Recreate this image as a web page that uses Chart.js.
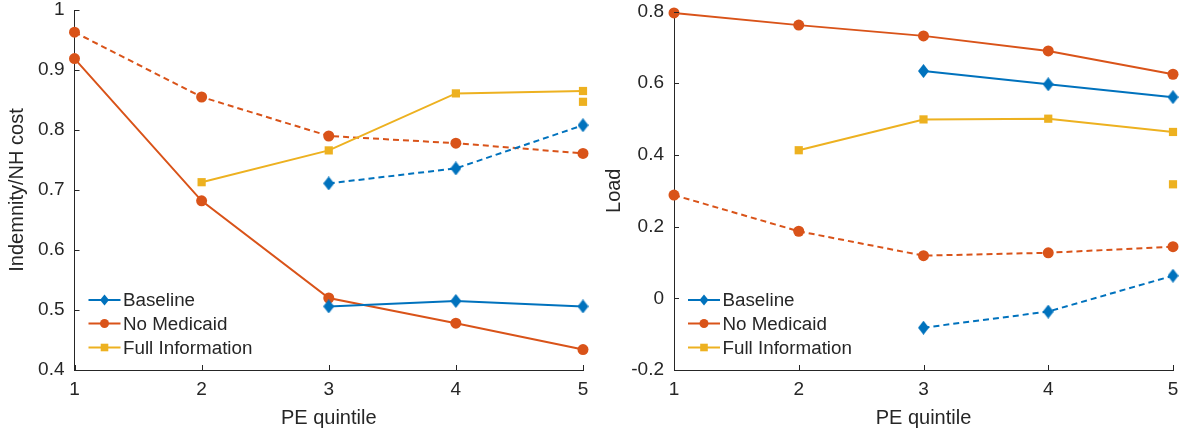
<!DOCTYPE html>
<html><head><meta charset="utf-8">
<script src="https://cdn.jsdelivr.net/npm/chart.js@4.4.1/dist/chart.umd.min.js"></script>
<style>
html,body{margin:0;padding:0;background:#fff;}
#wrap{position:relative;width:1180px;height:433px;}
canvas{position:absolute;top:0;}
</style></head><body>
<div id="wrap"><canvas id="c1" width="590" height="433" style="left:0"></canvas><canvas id="c2" width="590" height="433" style="left:590px"></canvas></div>
<script>
// ---------- DATA ----------
const quintiles = [1, 2, 3, 4, 5];
const seriesNames = ['Baseline', 'No Medicaid', 'Full Information'];
const xTitle = 'PE quintile';
const leftYTitle = 'Indemnity/NH cost';
const rightYTitle = 'Load';

// Left panel: Indemnity/NH cost
const indemBaselineSolid  = [null, null, 0.506, 0.515, 0.506];
const indemBaselineDashed = [null, null, 0.711, 0.736, 0.808];
const indemNoMedSolid     = [0.919, 0.682, 0.520, 0.478, 0.434];
const indemNoMedDashed    = [0.963, 0.855, 0.790, 0.778, 0.761];
const indemFullSolid      = [null, 0.713, 0.766, 0.861, 0.865];
const indemFullExtra      = [null, null, null, null, 0.847];

// Right panel: Load
const loadBaselineSolid  = [null, null, 0.634, 0.597, 0.561];
const loadBaselineDashed = [null, null, -0.082, -0.037, 0.063];
const loadNoMedSolid     = [0.796, 0.762, 0.732, 0.690, 0.625];
const loadNoMedDashed    = [0.288, 0.187, 0.119, 0.127, 0.144];
const loadFullSolid      = [null, 0.413, 0.499, 0.501, 0.464];
const loadFullExtra      = [null, null, null, null, 0.318];

// ---------- STYLE ----------
const BLUE = '#0072BD', ORANGE = '#D95319', YELLOW = '#EDB120';
const AXIS = '#262626';
const FONT = "'Liberation Sans', Arial, Helvetica, sans-serif";
Chart.defaults.font.family = FONT;
Chart.defaults.color = AXIS;

function diamondImg(color, w, h) {
  const c = document.createElement('canvas'); c.width = w; c.height = h;
  const g = c.getContext('2d'); g.fillStyle = color;
  g.beginPath(); g.moveTo(w/2, 0); g.lineTo(w, h/2); g.lineTo(w/2, h); g.lineTo(0, h/2); g.closePath(); g.fill();
  return c;
}
const diamondBig = diamondImg(BLUE, 11, 14);

function pts(arr) { return quintiles.map((x, i) => ({x: x, y: arr[i]})); }

function ds(arr, color, kind, dashed, showLine) {
  const base = {
    data: pts(arr), borderColor: color, backgroundColor: color, borderWidth: 2,
    borderDash: dashed ? [6, 4] : [], showLine: showLine !== false, clip: false,
    pointBorderWidth: 0, pointHoverRadius: 6, spanGaps: false, fill: false, tension: 0
  };
  if (kind === 'd') { base.pointStyle = diamondBig; base.pointRadius = 7; }
  else if (kind === 'o') { base.pointStyle = 'circle'; base.pointRadius = 5.5; }
  else { base.pointStyle = 'rect'; base.pointRadius = 5.8; }
  return base;
}

const axisPlugin = {
  id: 'matlabAxes',
  afterDraw(chart) {
    const o = chart.options.plugins.matlabAxes;
    const ctx = chart.ctx, a = chart.chartArea;
    const xs = chart.scales.x, ys = chart.scales.y;
    ctx.save();
    ctx.strokeStyle = AXIS; ctx.lineWidth = 1;
    ctx.beginPath();
    xs.ticks.forEach(t => { const px = Math.round(xs.getPixelForValue(t.value)) + 0.5; ctx.moveTo(px, a.bottom); ctx.lineTo(px, a.bottom - 5); });
    ys.ticks.forEach(t => { const py = Math.round(ys.getPixelForValue(t.value)) + 0.5; ctx.moveTo(a.left, py); ctx.lineTo(a.left + 5, py); });
    ctx.stroke();
    // titles
    ctx.fillStyle = AXIS;
    ctx.font = '20px ' + FONT;
    ctx.textAlign = 'center'; ctx.textBaseline = 'middle';
    ctx.fillText(o.xTitle, (a.left + a.right) / 2, 418);
    ctx.translate(o.yTitleX, (a.top + a.bottom) / 2);
    ctx.rotate(-Math.PI / 2);
    ctx.fillText(o.yTitle, 0, 0);
    ctx.restore();
    // legend
    ctx.save();
    const rows = [300, 323.5, 347.5];
    const colors = [BLUE, ORANGE, YELLOW];
    const x0 = a.left + 14, x1 = a.left + 46, xm = (x0 + x1) / 2;
    seriesNames.forEach((name, i) => {
      const y = rows[i], c = colors[i];
      ctx.strokeStyle = c; ctx.fillStyle = c; ctx.lineWidth = 2; ctx.setLineDash([]);
      ctx.beginPath(); ctx.moveTo(x0, y); ctx.lineTo(x1, y); ctx.stroke();
      ctx.beginPath();
      if (i === 0) { ctx.moveTo(xm, y - 5.5); ctx.lineTo(xm + 4.5, y); ctx.lineTo(xm, y + 5.5); ctx.lineTo(xm - 4.5, y); ctx.closePath(); }
      else if (i === 1) { ctx.arc(xm, y, 4.5, 0, Math.PI * 2); }
      else { ctx.rect(xm - 3.8, y - 3.8, 7.6, 7.6); }
      ctx.fill();
      ctx.fillStyle = AXIS;
      ctx.font = '18.8px ' + FONT;
      ctx.textAlign = 'left'; ctx.textBaseline = 'middle';
      ctx.fillText(name, x1 + 2.5, y + 1);
    });
    ctx.restore();
  }
};

function fmt(v) { return String(+(+v).toFixed(2)); }

function makeChart(id, datasets, yMin, yMax, yStep, yWidth, topPad, yTitle, yTitleX) {
  return new Chart(document.getElementById(id), {
    type: 'line',
    data: { datasets: datasets },
    plugins: [axisPlugin],
    options: {
      responsive: false, animation: false,
      layout: { padding: { top: topPad, right: 7, left: 0, bottom: 0 } },
      plugins: { legend: { display: false }, tooltip: { enabled: false },
        matlabAxes: { xTitle: xTitle, yTitle: yTitle, yTitleX: yTitleX } },
      scales: {
        x: {
          type: 'linear', min: 1, max: 5,
          ticks: { stepSize: 1, padding: 8.5, font: { size: 19 }, color: AXIS, callback: fmt, maxRotation: 0 },
          grid: { display: true, drawOnChartArea: false, drawTicks: false },
          border: { display: true, color: AXIS, width: 1 },
          afterFit: s => { s.height = 63; s.paddingLeft = 0; s.paddingRight = 0; s.paddingTop = 0; s.paddingBottom = 0; }
        },
        y: {
          type: 'linear', min: yMin, max: yMax,
          ticks: { stepSize: yStep, padding: 10, font: { size: 19 }, color: AXIS, callback: fmt },
          grid: { display: true, drawOnChartArea: false, drawTicks: false },
          border: { display: true, color: AXIS, width: 1 },
          afterFit: s => { s.width = yWidth; s.paddingLeft = 0; s.paddingRight = 0; s.paddingTop = 0; s.paddingBottom = 0; }
        }
      }
    }
  });
}

makeChart('c1', [
  ds(indemBaselineSolid, BLUE, 'd', false),
  ds(indemNoMedSolid, ORANGE, 'o', false),
  ds(indemFullSolid, YELLOW, 's', false),
  ds(indemBaselineDashed, BLUE, 'd', true),
  ds(indemNoMedDashed, ORANGE, 'o', true),
  ds(indemFullExtra, YELLOW, 's', false, false)
], 0.4, 1, 0.1, 74.5, 10, leftYTitle, 17);

makeChart('c2', [
  ds(loadBaselineSolid, BLUE, 'd', false),
  ds(loadNoMedSolid, ORANGE, 'o', false),
  ds(loadFullSolid, YELLOW, 's', false),
  ds(loadBaselineDashed, BLUE, 'd', true),
  ds(loadNoMedDashed, ORANGE, 'o', true),
  ds(loadFullExtra, YELLOW, 's', false, false)
], -0.2, 0.8, 0.2, 84, 11.5, rightYTitle, 24);
</script>
</body></html>
